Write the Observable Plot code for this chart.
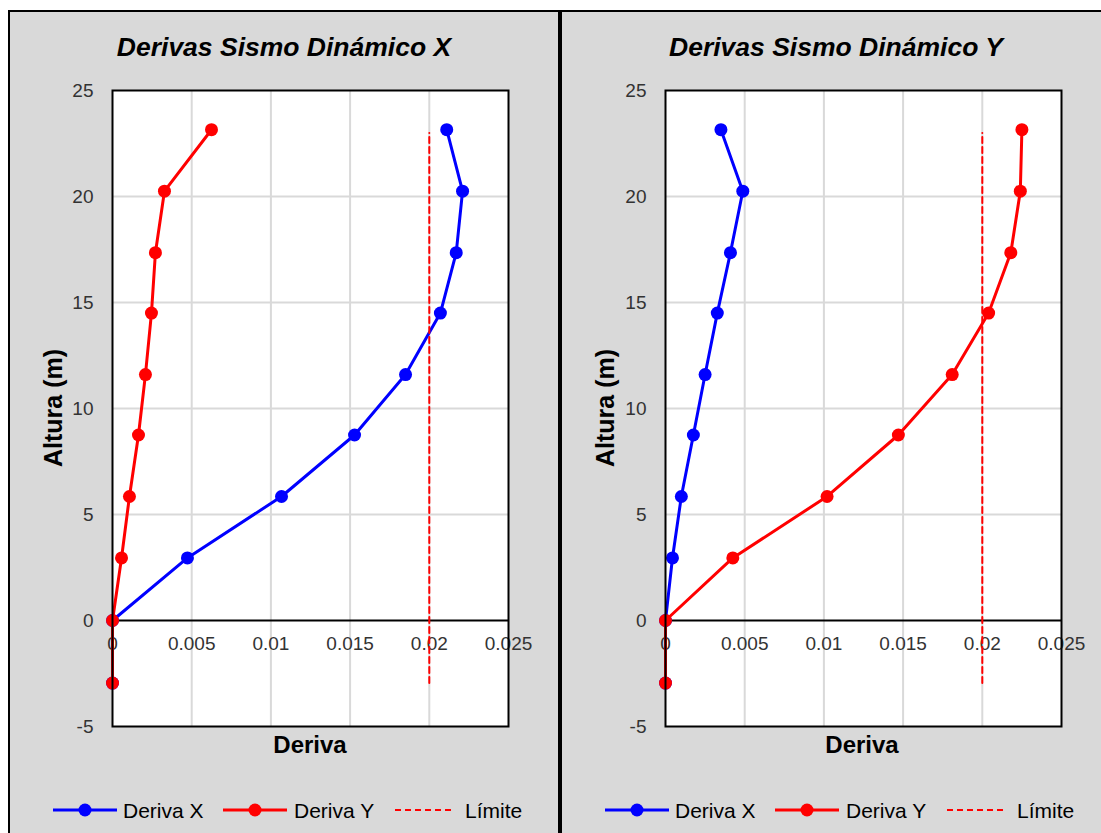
<!DOCTYPE html>
<html>
<head>
<meta charset="utf-8">
<script src="https://cdn.jsdelivr.net/npm/d3@7"></script>
<script src="https://cdn.jsdelivr.net/npm/@observablehq/plot@0.6"></script>
<style>
  html, body { margin: 0; padding: 0; background: #ffffff; width: 1101px; height: 833px; overflow: hidden; }
  .panel { position: absolute; top: 10px; width: 552px; height: 840px; box-sizing: border-box;
           border: 2px solid #000; background: #d9d9d9; font-family: "Liberation Sans", Arial, sans-serif; }
  .title { position: absolute; left: 0; width: 548px; top: 20px; line-height: 30px; text-align: center;
           font-size: 26.5px; font-weight: bold; font-style: italic; color: #000; white-space: nowrap; }
  .xlabel { position: absolute; left: 150px; width: 300px; top: 719px; line-height: 28px; text-align: center;
            font-size: 24px; font-weight: bold; color: #000; }
  .ylabel { position: absolute; left: -107px; width: 300px; top: 381px; height: 30px; line-height: 30px; text-align: center;
            font-size: 25px; font-weight: bold; color: #000; transform: rotate(-90deg); white-space: nowrap; }
  .chart { position: absolute; left: 0; top: 0; }
  .legend { position: absolute; left: 0; top: 783px; }
</style>
</head>
<body>
<div class="panel" id="p1" style="left:8px">
  <div class="chart"></div>
  <div class="title">Derivas Sismo Dinámico X</div>
  <div class="ylabel">Altura (m)</div>
  <div class="xlabel">Deriva</div>
  <svg class="legend" width="548" height="30"></svg>
</div>
<div class="panel" id="p2" style="left:560px">
  <div class="chart"></div>
  <div class="title">Derivas Sismo Dinámico Y</div>
  <div class="ylabel">Altura (m)</div>
  <div class="xlabel">Deriva</div>
  <svg class="legend" width="548" height="30"></svg>
</div>
<script>
// ---- data ----
const heights = [-2.95, 0, 2.95, 5.85, 8.75, 11.6, 14.5, 17.35, 20.25, 23.15];
// Sismo Dinámico X
const sxDerivaX = [0, 0, 0.00473, 0.01067, 0.01528, 0.0185, 0.0207, 0.0217, 0.0221, 0.0211];
const sxDerivaY = [0, 0, 0.00057, 0.00107, 0.00164, 0.00208, 0.00246, 0.00271, 0.00328, 0.00625];
// Sismo Dinámico Y
const syDerivaX = [0, 0, 0.00044, 0.0010, 0.00176, 0.0025, 0.00327, 0.0041, 0.00488, 0.0035];
const syDerivaY = [0, 0, 0.00425, 0.0102, 0.0147, 0.0181, 0.0204, 0.0218, 0.0224, 0.0225];
// Límite
const limitX = [0.02, 0.02];
const limitH = [-2.95, 23];
// ticks
const xTicks = [0, 0.005, 0.01, 0.015, 0.02, 0.025];
const xTickLabels = ["0", "0.005", "0.01", "0.015", "0.02", "0.025"];
const yTicks = [-5, 0, 5, 10, 15, 20, 25];
const yTickLabels = ["-5", "0", "5", "10", "15", "20", "25"];
const seriesNames = ["Deriva X", "Deriva Y", "Límite"];
const seriesColors = ["#0000ff", "#ff0000", "#ff0000"];

function rows(xs) { return xs.map((v, i) => ({x: v, h: heights[i]})); }

function makeChart(container, dx, dy, marginLeft) {
  const blue = rows(dx), red = rows(dy);
  const lim = limitX.map((v, i) => ({x: v, h: limitH[i]}));
  const chart = Plot.plot({
    width: 548, height: 826,
    marginLeft: marginLeft, marginRight: 548 - marginLeft - 396, marginTop: 78, marginBottom: 112,
    x: {domain: [0, 0.025], axis: null},
    y: {domain: [-5, 25], axis: null},
    style: {background: "transparent", fontFamily: "'Liberation Sans', Arial, sans-serif", fontSize: "19px", overflow: "visible"},
    marks: [
      Plot.frame({fill: "white", stroke: null}),
      Plot.gridX(xTicks.slice(1, -1), {stroke: "#d9d9d9", strokeOpacity: 1, strokeWidth: 2}),
      Plot.gridY(yTicks.filter(v => v !== 0 && v !== -5 && v !== 25), {stroke: "#d9d9d9", strokeOpacity: 1, strokeWidth: 2}),
      Plot.ruleY([0], {stroke: "#000", strokeWidth: 2}),
      Plot.axisY({ticks: yTicks, tickSize: 0, tickPadding: 19, label: null, fill: "#333", fontSize: 19,
                  tickFormat: d => yTickLabels[yTicks.indexOf(d)]}),
      Plot.text(xTicks, {x: d => d, y: 0, text: (d, i) => xTickLabels[i], dy: 23, fill: "#333", fontSize: 19, lineAnchor: "middle"}),
      Plot.line(blue, {x: "x", y: "h", stroke: seriesColors[0], strokeWidth: 3}),
      Plot.dot(blue, {x: "x", y: "h", r: 6.5, fill: seriesColors[0], stroke: null}),
      Plot.line(red, {x: "x", y: "h", stroke: seriesColors[1], strokeWidth: 3}),
      Plot.dot(red, {x: "x", y: "h", r: 6.5, fill: seriesColors[1], stroke: null}),
      Plot.line(lim, {x: "x", y: "h", stroke: seriesColors[2], strokeWidth: 2, strokeDasharray: "6,4"}),
      Plot.frame({stroke: "#000", strokeWidth: 2})
    ]
  });
  container.querySelector(".chart").appendChild(chart);

  // legend
  const svg = d3.select(container.querySelector(".legend"));
  const cy = 15;
  const items = [
    {x0: 43, x1: 107, dot: 75, tx: 113, dash: null},
    {x0: 213, x1: 277, dot: 245, tx: 284, dash: null},
    {x0: 385, x1: 444, dot: null, tx: 455, dash: "6,4"}
  ];
  items.forEach((it, i) => {
    svg.append("line").attr("x1", it.x0).attr("x2", it.x1).attr("y1", cy).attr("y2", cy)
      .attr("stroke", seriesColors[i]).attr("stroke-width", i === 2 ? 2 : 3)
      .attr("stroke-dasharray", it.dash);
    if (it.dot !== null) svg.append("circle").attr("cx", it.dot).attr("cy", cy).attr("r", 6.5).attr("fill", seriesColors[i]);
    svg.append("text").attr("x", it.tx).attr("y", cy + 7.5).text(seriesNames[i])
      .attr("font-size", 21).attr("fill", "#000").attr("font-family", "'Liberation Sans', Arial, sans-serif");
  });
}

makeChart(document.getElementById("p1"), sxDerivaX, sxDerivaY, 102);
makeChart(document.getElementById("p2"), syDerivaX, syDerivaY, 103);
</script>
</body>
</html>
